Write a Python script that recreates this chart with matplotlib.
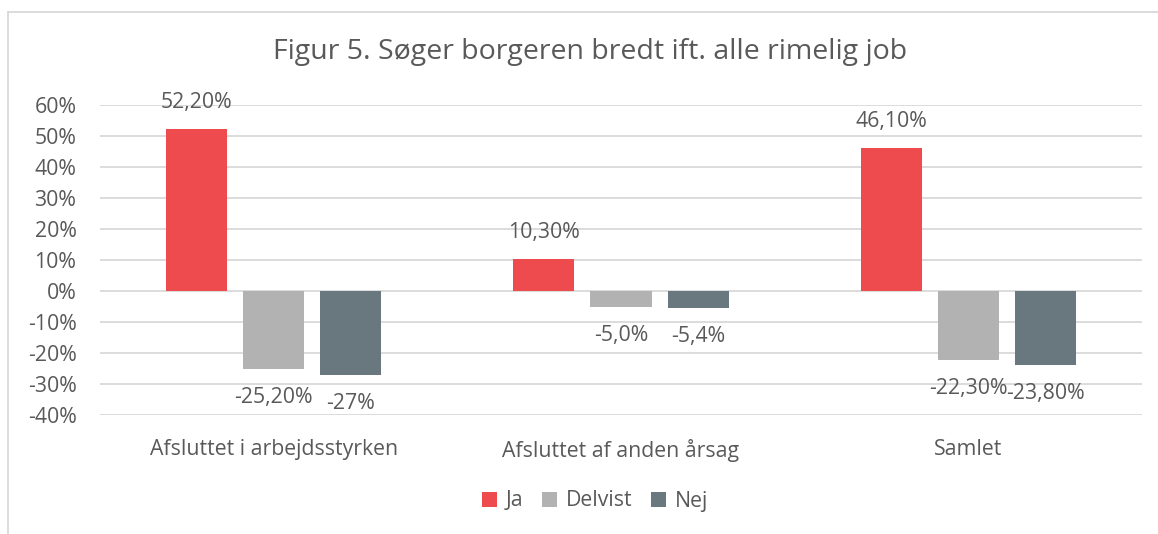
import matplotlib
matplotlib.use("Agg")
import matplotlib.pyplot as plt
from matplotlib.lines import Line2D
from matplotlib.patches import Patch
import numpy as np

plt.rcParams['font.family'] = ['Open Sans', 'DejaVu Sans']

categories = ["Afsluttet i arbejdsstyrken", "Afsluttet af anden årsag", "Samlet"]
series = ["Ja", "Delvist", "Nej"]
ja = [52.2, 10.3, 46.1]
delvist = [-25.2, -5.0, -22.3]
nej = [-27.0, -5.4, -23.8]
labels_ja = ["52,20%", "10,30%", "46,10%"]
labels_delvist = ["-25,20%", "-5,0%", "-22,30%"]
labels_nej = ["-27%", "-5,4%", "-23,80%"]
yticks = [-40, -30, -20, -10, 0, 10, 20, 30, 40, 50, 60]

colors = ["#EE4B4E", "#B2B2B2", "#69777E"]
text_col = "#595959"
fs = 15.3

W, H = 1158, 534
fig = plt.figure(figsize=(W / 100, H / 100), dpi=100)
ax = fig.add_axes([100 / W, (H - 415) / H, 1042 / W, 310 / H])

x = np.arange(len(categories))
width = 0.176
step = 0.222
data = [ja, delvist, nej]
labs = [labels_ja, labels_delvist, labels_nej]
for i, (vals, lab) in enumerate(zip(data, labs)):
    pos = x + (i - 1) * step
    ax.bar(pos, vals, width, color=colors[i], zorder=3)
    for p, v, t in zip(pos, vals, lab):
        off = 8.6 if v > 0 else -9.2
        ax.text(p, v + off, t, ha="center", va="center", fontsize=fs, color=text_col)

ax.set_xlim(-0.5, 2.5)
ax.set_ylim(-40, 60)
ax.set_yticks(yticks)
ax.set_yticklabels([f"{t}%" for t in yticks], fontsize=fs, color=text_col)
ax.set_xticks(x)
ax.set_xticklabels(categories, fontsize=fs, color=text_col)
ax.tick_params(axis="both", length=0)
ax.tick_params(axis="y", pad=17)
ax.tick_params(axis="x", pad=17)
ax.grid(axis="y", color="#D9D9D9", linewidth=1.3, zorder=0)
for s in ax.spines.values():
    s.set_visible(False)

fig.text(590 / W, 1 - 52 / H, "Figur 5. Søger borgeren bredt ift. alle rimelig job",
         ha="center", va="center", fontsize=20.5, color=text_col)

handles = [Patch(facecolor=c, edgecolor="none") for c in colors]
fig.legend(handles, series, loc="center", bbox_to_anchor=(595 / W, 1 - 501 / H), ncol=3,
           frameon=False, fontsize=fs, labelcolor=text_col, handlelength=0.7,
           handleheight=0.7, handletextpad=0.4, columnspacing=0.9)

# chart frame (left and top edges visible)
fig.add_artist(Line2D([8 / W, 8 / W], [0, 1 - 12 / H], transform=fig.transFigure,
                      color="#D9D9D9", linewidth=1.3))
fig.add_artist(Line2D([8 / W, 1], [1 - 12 / H, 1 - 12 / H], transform=fig.transFigure,
                      color="#D9D9D9", linewidth=1.3))

fig.savefig("out.png", dpi=100, facecolor="white")
